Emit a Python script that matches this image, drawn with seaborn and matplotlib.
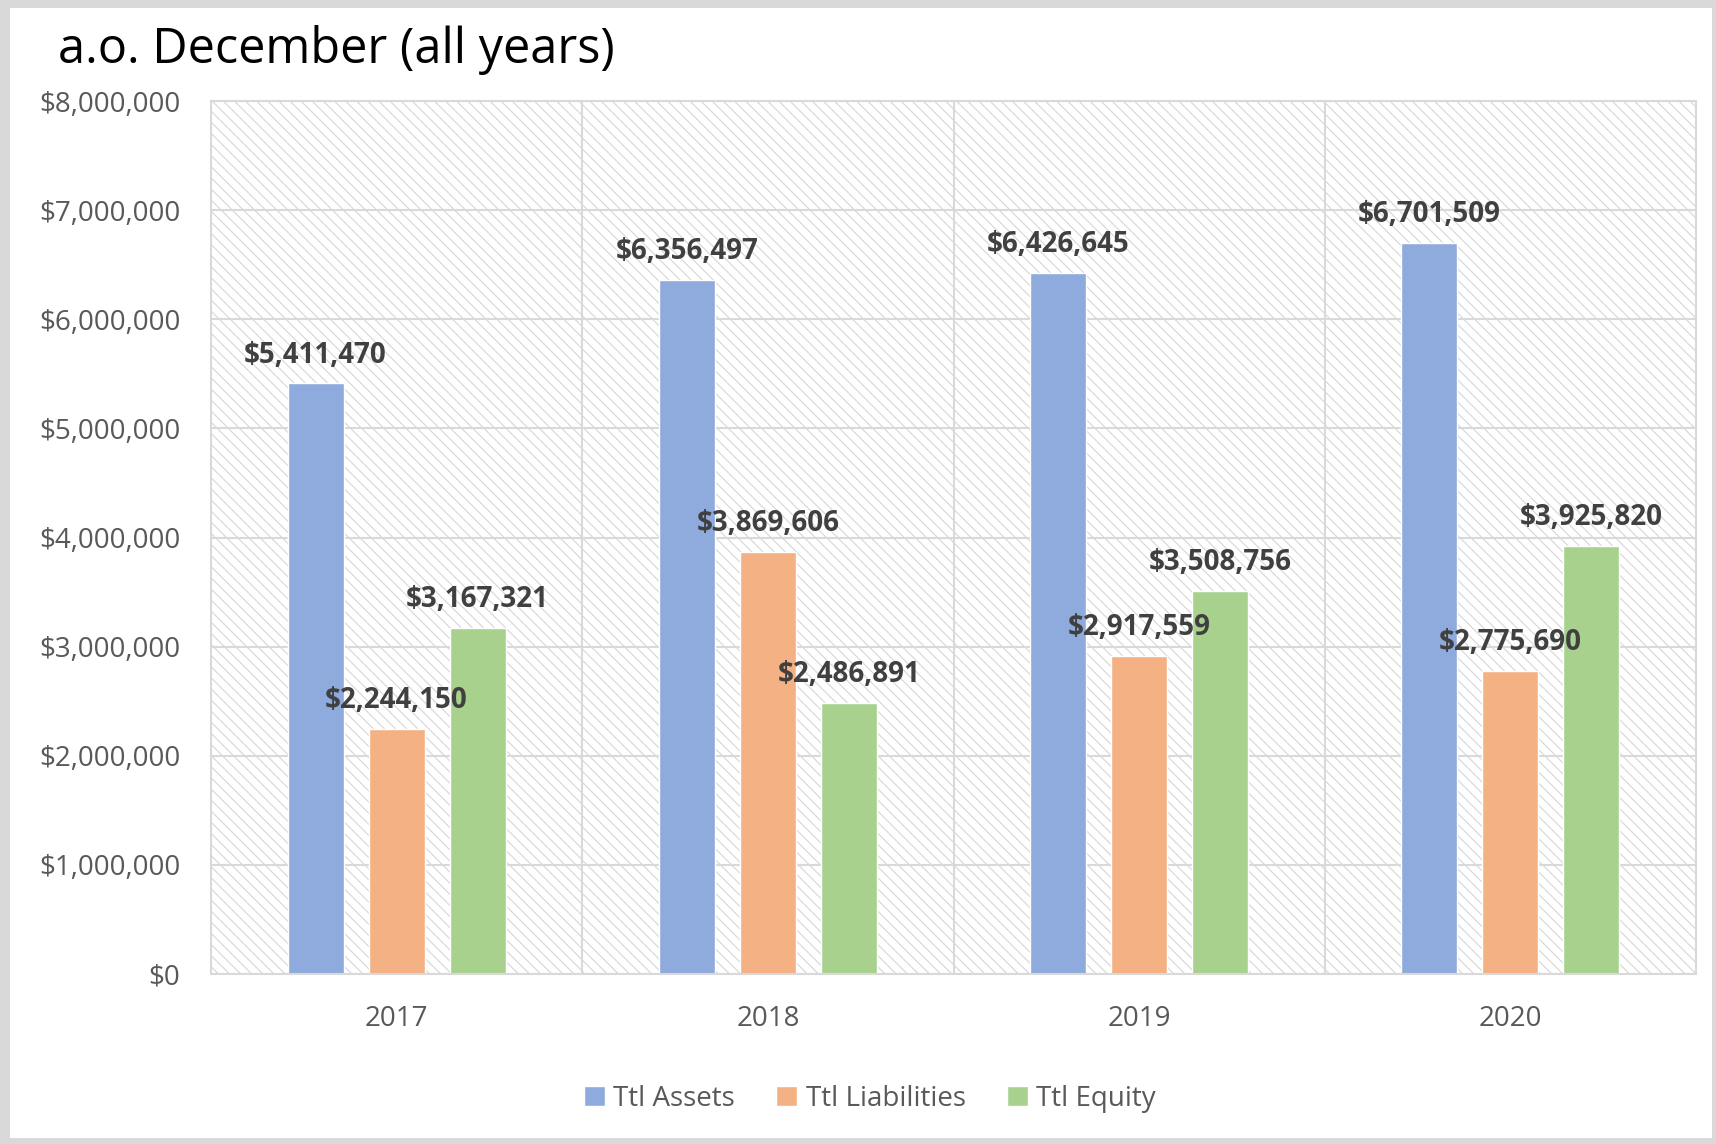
import matplotlib
matplotlib.use("Agg")
import matplotlib.pyplot as plt
from matplotlib.patches import Rectangle
import seaborn as sns
import pandas as pd

years = ["2017", "2018", "2019", "2020"]
series = ["Ttl Assets", "Ttl Liabilities", "Ttl Equity"]
assets = [5411470, 6356497, 6426645, 6701509]
liabilities = [2244150, 3869606, 2917559, 2775690]
equity = [3167321, 2486891, 3508756, 3925820]
yticks = [0, 1000000, 2000000, 3000000, 4000000, 5000000, 6000000, 7000000, 8000000]
colors = ["#8FAADC", "#F4B183", "#A9D18E"]

rows = []
for s, vals in zip(series, [assets, liabilities, equity]):
    for y, v in zip(years, vals):
        rows.append({"Year": y, "Series": s, "Value": v})
df = pd.DataFrame(rows)

sns.set_theme(style="white")
plt.rcParams["font.family"] = ["Open Sans", "DejaVu Sans"]
plt.rcParams["hatch.linewidth"] = 0.8

W, H = 1716, 1144
fig = plt.figure(figsize=(W / 100, H / 100), dpi=100)
fig.patch.set_facecolor("#d9d9d9")
fig.patches.append(Rectangle((10 / W, 6 / H), 1 - 14 / W, 1 - 14 / H,
                             transform=fig.transFigure, facecolor="white",
                             edgecolor="none", zorder=-10))

ax = fig.add_axes([211 / W, 1 - 974 / H, (1696 - 211) / W, (974 - 101) / H])
ax.set_zorder(1)
ax.set_facecolor("white")
ax.add_patch(Rectangle((0, 0), 1, 1, transform=ax.transAxes, facecolor="white",
                       edgecolor="#d6d6d6", hatch="\\\\\\", lw=0, zorder=0.1))

sns.barplot(data=df, x="Year", y="Value", hue="Series", order=years,
            hue_order=series, palette=colors, width=0.655, gap=0.31,
            saturation=1, ax=ax, legend=True, zorder=2)

ax.set_ylim(0, 8000000)
ax.set_xlim(-0.5, 3.5)
ax.set_yticks(yticks)
ax.set_yticklabels([f"${v:,.0f}" for v in yticks])
ax.set_xticks(range(len(years)))
ax.set_xticklabels(years)
ax.set_xticks([0.5, 1.5, 2.5], minor=True)
ax.set_xlabel("")
ax.set_ylabel("")
ax.set_axisbelow(True)
ax.yaxis.grid(True, color="#d9d9d9", lw=1.5, zorder=0.5)
ax.xaxis.grid(True, which="minor", color="#d9d9d9", lw=1.5, zorder=0.5)
ax.xaxis.grid(False, which="major")
ax.tick_params(axis="both", which="both", length=0, labelsize=20,
               labelcolor="#595959")
ax.tick_params(axis="y", pad=22)
ax.tick_params(axis="x", pad=22)
for sp in ax.spines.values():
    sp.set_color("#d9d9d9")
    sp.set_linewidth(1.5)

for cont in ax.containers:
    ax.bar_label(cont, labels=[f"${v:,.0f}" for v in cont.datavalues],
                 padding=10, fontsize=20, fontweight="bold", color="#404040")

handles, labels = ax.get_legend_handles_labels()
ax.get_legend().remove()
fig.legend(handles, labels, loc="center", bbox_to_anchor=(0.507, 1 - 1099 / H),
           ncol=3, frameon=False, fontsize=20, labelcolor="#595959",
           handlelength=0.75, handleheight=0.75, handletextpad=0.3,
           columnspacing=1.5)

fig.text(58 / W, 1 - 50 / H, "a.o. December (all years)", fontsize=35,
         color="black", va="center", ha="left")

fig.savefig("out.png", dpi=100)
